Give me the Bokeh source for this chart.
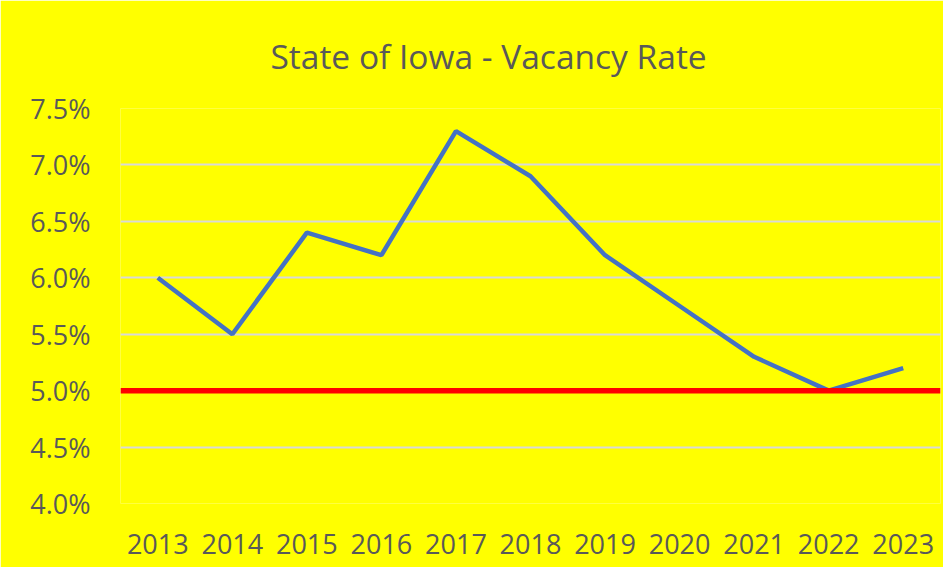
from bokeh.plotting import figure
from bokeh.models import FactorRange, Range1d, FixedTicker, PrintfTickFormatter, Span, Title
from bokeh.embed import file_html
from bokeh.resources import INLINE

years = ["2013", "2014", "2015", "2016", "2017", "2018", "2019", "2020", "2021", "2022", "2023"]
vacancy = [6.0, 5.5, 6.4, 6.2, 7.3, 6.9, 6.2, 5.75, 5.3, 5.0, 5.2]
target = 5.0
y_ticks = [4.0, 4.5, 5.0, 5.5, 6.0, 6.5, 7.0, 7.5]

YELLOW = "#FFFF00"
TXT = "#595959"
FONT = "Open Sans"

p = figure(width=943, height=567, output_backend="svg", toolbar_location=None,
           x_range=FactorRange(*years, range_padding=0),
           y_range=Range1d(4.0, 7.5),
           min_border_left=120, min_border_right=3, min_border_top=108, min_border_bottom=64)
p.background_fill_color = YELLOW
p.border_fill_color = YELLOW
p.outline_line_color = None

p.title = Title(text="State of Iowa - Vacancy Rate", text_font=FONT, text_font_size="33.5px",
                text_font_style="normal", text_color=TXT, align="left", offset=150, standoff=59)

p.xgrid.grid_line_color = None
p.ygrid.grid_line_color = "#D9D9D9"
p.ygrid.grid_line_width = 2
p.yaxis.ticker = FixedTicker(ticks=y_ticks)
p.yaxis.formatter = PrintfTickFormatter(format="%.1f%%")

for ax in (p.xaxis[0], p.yaxis[0]):
    ax.axis_line_color = None
    ax.major_tick_line_color = None
    ax.minor_tick_line_color = None
    ax.major_label_text_font = FONT
    ax.major_label_text_font_size = "27px"
    ax.major_label_text_color = TXT
p.yaxis.major_label_standoff = 24
p.xaxis.major_label_standoff = 24

p.line(years, vacancy, line_color="#4472C4", line_width=4.5)
p.add_layout(Span(location=target, dimension="width", line_color="#FF0000", line_width=5.5))

open("out.html", "w").write(file_html(p, INLINE))
